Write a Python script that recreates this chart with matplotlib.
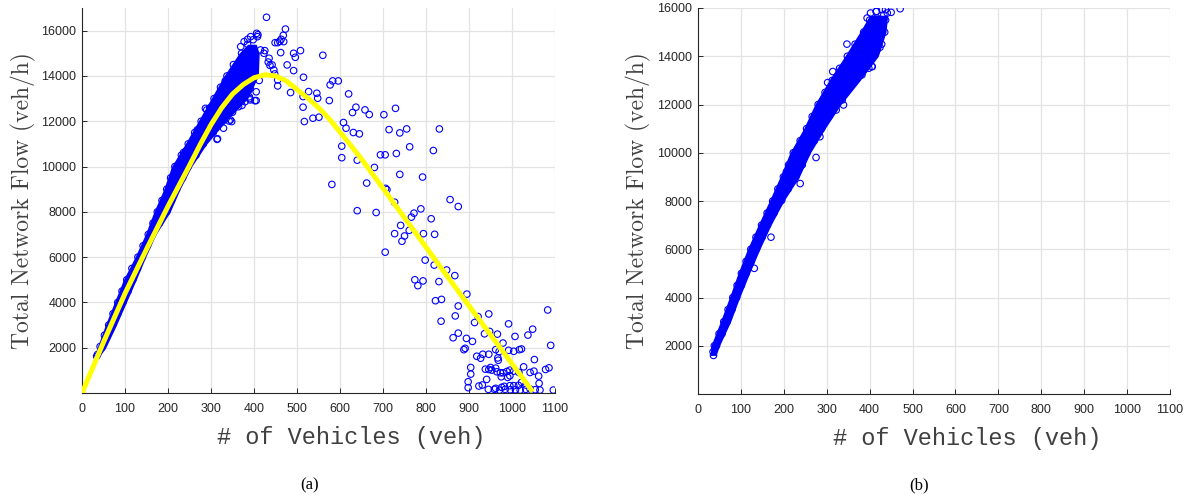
import matplotlib
matplotlib.use("Agg")
import matplotlib.pyplot as plt

# ---- panel (a): dense band (x-extent of the solid blue band at given flow levels)
a_band_y = [1600, 2000, 3000, 4000, 5000, 6000, 7000, 8000, 9000, 10000, 11000, 12000, 13000, 14000, 15000, 15400]
a_band_left = [28, 35, 54, 75, 96, 123, 147, 167, 190, 208, 240, 270, 300, 330, 365, 385]
a_band_right = [40, 55, 80, 103, 126, 148, 172, 205, 228, 255, 290, 335, 385, 410, 412, 405]

# circles along the band edges
a_edge_x = [36, 42, 52, 62, 72, 83, 93, 104, 116, 130, 142, 154, 165, 175, 186, 197, 206, 216, 231, 247,
            262, 277, 290, 307, 322, 337, 352, 371, 385, 398,
            34, 46, 58, 71, 83, 95, 107, 118, 129, 140, 152, 164, 180, 197, 208, 220, 234, 247, 265, 282,
            305, 327, 350, 372, 390, 405, 412]
a_edge_y = [1700, 2050, 2550, 3000, 3500, 4000, 4500, 5000, 5500, 6000, 6500, 7000, 7500, 8000, 8500, 9000,
            9500, 10000, 10500, 11000, 11500, 12000, 12500, 13000, 13500, 14000, 14500, 15000, 15400, 15600,
            1620, 2000, 2500, 3000, 3500, 4000, 4500, 5000, 5500, 6000, 6500, 7000, 7500, 8000, 8500, 9000,
            9500, 10000, 10500, 11000, 11500, 12000, 12400, 12700, 13000, 13300, 13800]

# loose points of panel (a)
a_pts_x = [429, 473, 409, 408, 468, 463, 460, 455, 469, 449, 425, 462, 492, 496, 508, 560, 477, 492, 515, 455,
           448, 455, 485, 527, 546, 514, 548, 577, 583, 596, 575, 620, 514, 517, 537, 551, 608, 614, 637, 629,
           658, 668, 631, 645,
           391, 405, 377, 388, 415, 423, 435, 442, 446, 369, 377, 385, 392, 406, 333, 322, 341, 391, 402, 379,
           389, 364, 348, 315, 298, 287, 268, 241, 272, 329, 345, 433, 437, 320, 314, 342, 236, 297, 302,
           702, 729, 714, 739, 755, 831, 762, 705, 694, 731, 817, 739, 792, 604, 604, 640, 680, 581, 662, 640,
           684, 706, 709, 727, 856, 875, 788, 772, 766, 812, 741, 727, 750, 744, 761, 794, 820, 705, 798, 819,
           848, 867, 774, 793, 781, 830,
           895, 822, 836, 875, 946, 868, 835, 921, 913, 992, 1048, 1083, 875, 863, 894, 908, 936, 948, 966, 1007,
           1037, 979, 1090, 888, 891, 962, 918, 927, 932, 946, 967, 970, 992, 1004, 1017, 1022, 968, 1052, 904, 938,
           946, 953, 965, 973, 979, 988, 995, 1004, 1016, 1027, 1042, 1051, 1078, 1086, 904, 975, 990, 995, 941, 898,
           1062, 931, 923, 898, 1022, 1032, 1063, 950, 962,
           945, 959, 971, 984, 996, 1008, 1019, 1032, 1042, 1054, 1065, 1096, 962, 976, 982, 995, 1004, 1015]
a_pts_y = [16590, 16070, 15820, 15735, 15794, 15618, 15530, 15470, 15515, 15470, 15118, 15030, 15000, 14824, 15118,
           14912, 14486, 14236, 13942, 13824, 14089, 13560, 13266, 13310, 13236, 13090, 13016, 13604, 13780, 13780,
           12913, 13207, 12620, 11987, 12134, 12178, 11943, 11693, 12620, 12384, 12502, 12296, 11502, 11443,
           12942, 12913, 13457, 13384, 15147, 15000, 14780, 14486, 14265, 15294, 15515, 15618, 15735, 15882, 13781,
           13300, 13226, 13445, 12905, 12861, 13080, 12642, 11985, 11226, 12496, 12569, 11620, 10671, 11036, 11693,
           12058, 14613, 14467, 13210, 11200, 12010, 10620, 12590, 12630,
           12290, 12570, 11630, 11485, 11660, 11660, 10870, 10517, 10517, 10576, 10708, 9652, 9535, 10900, 10390,
           10280, 9960, 9210, 9270, 8050, 7970, 9036, 8978, 8423, 8540, 8233, 8131, 7941, 7766, 7693, 7401, 7036,
           6934, 6700, 7182, 7036, 7007, 6218, 5868, 5649, 5431, 5183, 5000, 4950, 4740, 4920,
           4367, 4075, 4133, 3841, 3491, 3403, 3170, 3374, 3111, 3053, 2819, 3666, 2644, 2440, 2411, 2279, 2615,
           2717, 2600, 2498, 2557, 2206, 2104, 1914, 1973, 1914, 1622, 1535, 1710, 1710, 1549, 1827, 1885, 1841,
           1914, 1943, 1447, 1476, 1126, 1053, 1038, 1009, 936, 892, 892, 951, 1009, 965, 907, 1155, 907, 965, 1038,
           1111, 834, 717, 688, 761, 600, 498, 746, 352, 308, 235, 469, 352, 425, 1126, 1097,
           160, 160, 130, 160, 145, 145, 130, 160, 175, 145, 130, 130, 206, 250, 294, 323, 323, 337]

# fitted curve (yellow)
fit_x = [0, 50, 100, 150, 200, 250, 275, 300, 325, 350, 375, 400, 425, 450, 475, 500, 525, 550, 575, 600,
         625, 650, 700, 740, 800, 850, 900, 950, 1000, 1048]
fit_y = [0, 2250, 4400, 6350, 8250, 10050, 10980, 11850, 12600, 13200, 13620, 13920, 14050, 14000, 13780,
         13400, 13020, 12600, 12100, 11520, 10930, 10330, 9040, 8000, 6440, 5140, 3850, 2570, 1290, 60]

# ---- panel (b)
b_band_y = [1600, 2000, 3000, 4000, 5000, 6000, 7000, 8000, 9000, 10000, 11000, 12000, 13000, 14000, 15000, 15700]
b_band_left = [28, 30, 52, 73, 93, 115, 140, 166, 191, 214, 246, 272, 305, 342, 377, 400]
b_band_right = [42, 50, 76, 97, 120, 144, 170, 200, 236, 262, 296, 333, 378, 420, 438, 442]

b_edge_x = [35, 38, 49, 60, 70, 81, 91, 101, 112, 123, 135, 148, 161, 174, 186, 199, 211, 222, 238, 253,
            266, 280, 296, 313, 330, 348, 366, 386, 400, 415,
            36, 43, 56, 68, 79, 90, 101, 112, 124, 136, 149, 162, 177, 192, 210, 228, 243, 254, 271, 288,
            305, 322, 342, 362, 385, 407, 428, 435, 437]
b_edge_y = [1750, 2000, 2500, 3000, 3500, 4000, 4500, 5000, 5500, 6000, 6500, 7000, 7500, 8000, 8500, 9000,
            9500, 10000, 10500, 11000, 11500, 12000, 12500, 13000, 13500, 14000, 14500, 15000, 15500, 15850,
            1600, 2000, 2500, 3000, 3500, 4000, 4500, 5000, 5500, 6000, 6500, 7000, 7500, 8000, 8500, 9000,
            9500, 10000, 10500, 11000, 11500, 12000, 12500, 13000, 13500, 14000, 14500, 15000, 15500]

b_pts_x = [347, 314, 302, 336, 339, 322, 353, 382, 398, 405, 421, 408, 417, 425, 429, 433, 417, 437, 394, 402,
           416, 429, 441, 275, 238, 308, 296, 284, 206, 195, 258, 471, 450, 424, 424, 406, 380, 131, 170]
b_pts_y = [14503, 13367, 12909, 12189, 11981, 11773, 12882, 13228, 13505, 13575, 14683, 14406, 14268, 15307,
           15030, 15723, 15584, 15931, 15584, 15792, 15861, 15931, 15792, 9804, 8723, 11703, 11357, 10664, 9209,
           8030, 10525, 15970, 15820, 14890, 14370, 13570, 13300, 5210, 6500]

x_ticks = [0, 100, 200, 300, 400, 500, 600, 700, 800, 900, 1000, 1100]
y_ticks = [2000, 4000, 6000, 8000, 10000, 12000, 14000, 16000]

BLUE = (0, 0, 1)
AXC = '#262626'


def style_axes(ax, ymax):
    ax.set_xlim(0, 1100)
    ax.set_ylim(0, ymax)
    ax.set_xticks(x_ticks)
    ax.set_yticks(y_ticks)
    ax.grid(True, color='#e3e3e3', linewidth=0.9)
    ax.set_axisbelow(True)
    for s in ['top', 'right']:
        ax.spines[s].set_visible(False)
    for s in ['left', 'bottom']:
        ax.spines[s].set_color(AXC)
        ax.spines[s].set_linewidth(0.8)
    ax.tick_params(direction='in', length=3.5, width=0.7, colors=AXC, labelsize=9, pad=4)
    for lab in ax.get_xticklabels() + ax.get_yticklabels():
        lab.set_fontfamily('Liberation Sans')
    ax.tick_params(axis='x', pad=7)
    ax.set_ylabel('Total Network Flow (veh/h)', fontfamily='cmr10', fontsize=17, color='#404040')
    ax.set_xlabel('# of Vehicles (veh)', fontfamily='Liberation Mono', fontsize=17, color='#404040')


def draw_panel(ax, band_y, band_l, band_r, edge_x, edge_y, pts_x, pts_y):
    ax.fill_betweenx(band_y, band_l, band_r, color=BLUE, linewidth=0, zorder=2)
    ax.scatter(edge_x, edge_y, s=22, facecolors='none', edgecolors=BLUE, linewidths=0.8, zorder=3)
    ax.scatter(pts_x, pts_y, s=22, facecolors='none', edgecolors=BLUE, linewidths=0.8, zorder=3)


fig = plt.figure(figsize=(11.91, 5.0), dpi=100)
ax1 = fig.add_axes([0.0689, 0.214, 0.3971, 0.770])
ax2 = fig.add_axes([0.5861, 0.212, 0.3963, 0.772])

draw_panel(ax1, a_band_y, a_band_left, a_band_right, a_edge_x, a_edge_y, a_pts_x, a_pts_y)
ax1.plot(fit_x, fit_y, color=(1, 1, 0), linewidth=3.6, zorder=4, solid_capstyle='butt')
style_axes(ax1, 17000)

draw_panel(ax2, b_band_y, b_band_left, b_band_right, b_edge_x, b_edge_y, b_pts_x, b_pts_y)
style_axes(ax2, 16000)

# labels sit a bit right of centre in the original
ax1.xaxis.set_label_coords(0.569, -0.085)
ax2.xaxis.set_label_coords(0.570, -0.085)
ax1.yaxis.set_label_coords(-0.097, 0.5)
ax2.yaxis.set_label_coords(-0.099, 0.5)

fig.text(310 / 1191, 1 - 485 / 500, '(a)', ha='center', va='center', fontfamily='Liberation Serif', fontsize=12)
fig.text(919 / 1191, 1 - 485 / 500, '(b)', ha='center', va='center', fontfamily='Liberation Serif', fontsize=12)

fig.savefig('out.png', dpi=100)
